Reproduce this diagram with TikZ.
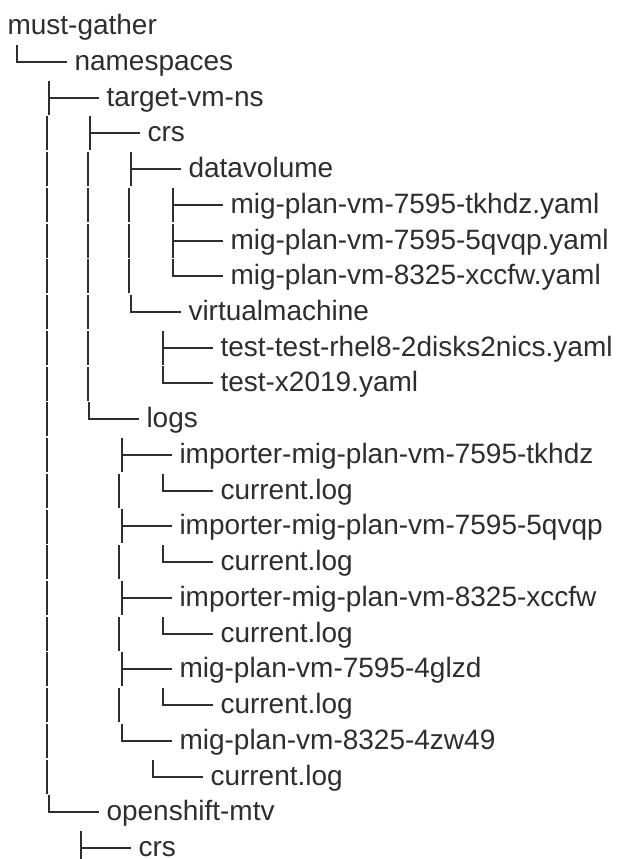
\documentclass[tikz,border=0pt]{standalone}
\usepackage{fontspec}
\setmainfont{Liberation Sans}
\definecolor{ink}{HTML}{2E2E2E}
\tikzset{
  lbl/.style={anchor=base west, inner sep=0pt, outer sep=0pt, text=ink,
              font=\fontsize{28pt}{34pt}\selectfont},
  branch/.style={draw=ink, line width=2pt}
}
% #1 name, #2 row, #3 column x, #4 T (tee) or L (last), #5 text
\newcommand\treeentry[5]{%
  \coordinate (#1j) at ({round(#3)},{round(34.3+35.73*#2-8.1)});
  \node[lbl] (#1) at ([shift={(57.5,8.1)}]#1j) {#5};
  \ifx L#4
    \draw[branch] ([shift={(0,-17)}]#1j) |- ([shift={(-7.5,-8.1)}]#1.base west);
  \else
    \draw[branch] ([shift={(0,-17)}]#1j) -- ([shift={(0,17)}]#1j);
    \draw[branch] (#1j) -- ([shift={(-7.5,-8.1)}]#1.base west);
  \fi
}
% continuation bar in column #1 on row #2
\newcommand\vbar[2]{%
  \draw[branch] ({round(#1)},{round(34.3+35.73*#2-25)}) -- ({round(#1)},{round(34.3+35.73*#2+9)});
}
\begin{document}
\begin{tikzpicture}[x=1pt,y=-1pt]
\fill[white] (0,0) rectangle (616,859);
\useasboundingbox (0,0) rectangle (616,859);
\clip (0,0) rectangle (616,859);

\node[lbl] (t0) at (7.5,34.3) {must-gather};
\treeentry{t1}{1}{17.3}{L}{namespaces}
\treeentry{t2}{2}{49.3}{T}{target-vm-ns}
\treeentry{t3}{3}{90}{T}{crs}
\treeentry{t4}{4}{131}{T}{datavolume}
\treeentry{t5}{5}{172.7}{T}{mig-plan-vm-7595-tkhdz.yaml}
\treeentry{t6}{6}{172.7}{T}{mig-plan-vm-7595-5qvqp.yaml}
\treeentry{t7}{7}{172.7}{L}{mig-plan-vm-8325-xccfw.yaml}
\treeentry{t8}{8}{131}{L}{virtualmachine}
\treeentry{t9}{9}{163.3}{T}{test-test-rhel8-2disks2nics.yaml}
\treeentry{t10}{10}{163.3}{L}{test-x2019.yaml}
\treeentry{t11}{11}{89.3}{L}{logs}
\treeentry{t12}{12}{121.7}{T}{importer-mig-plan-vm-7595-tkhdz}
\treeentry{t13}{13}{162.7}{L}{current.log}
\treeentry{t14}{14}{121.7}{T}{importer-mig-plan-vm-7595-5qvqp}
\treeentry{t15}{15}{162.7}{L}{current.log}
\treeentry{t16}{16}{121.7}{T}{importer-mig-plan-vm-8325-xccfw}
\treeentry{t17}{17}{162.7}{L}{current.log}
\treeentry{t18}{18}{121.7}{T}{mig-plan-vm-7595-4glzd}
\treeentry{t19}{19}{162.7}{L}{current.log}
\treeentry{t20}{20}{121.7}{L}{mig-plan-vm-8325-4zw49}
\treeentry{t21}{21}{152.7}{L}{current.log}
\treeentry{t22}{22}{49}{L}{openshift-mtv}
\treeentry{t23}{23}{81}{T}{crs}

% continuation bars
\foreach \r in {3,...,21} {\vbar{46.7}{\r}}
\foreach \r in {4,...,10} {\vbar{88.3}{\r}}
\foreach \r in {5,6,7} {\vbar{129}{\r}}
\foreach \r in {13,15,17,19} {\vbar{119.3}{\r}}
\end{tikzpicture}
\end{document}
